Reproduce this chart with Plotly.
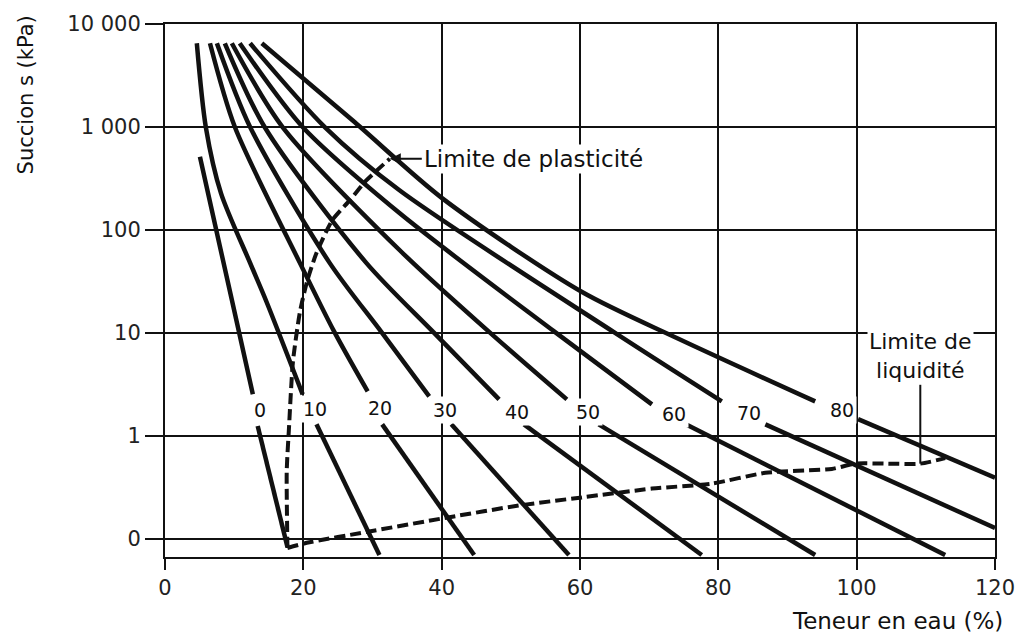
import math
import plotly.graph_objects as go

# Plasticity index of each suction curve
ip_values = [0, 10, 20, 30, 40, 50, 60, 70, 80]

# Water content (%) / suction (kPa) along each curve; None splits the upper
# and lower branch where the curve label sits.
w_ip0 = [5.05, 9.66, 12.7, None, 13.4, 17.7]
s_ip0 = [515, 21, 2.54, None, 1.25, 0.084]
w_ip10 = [4.6, 5.9, 8.1, 12.3, 14.7, 19.9, None, 21.9, 31.0]
s_ip10 = [6500, 1000, 227, 48, 19.9, 2.54, None, 1.30, 0.07]
w_ip20 = [6.5, 10.1, 19.5, 24.5, 29.3, None, 31.4, 44.7]
s_ip20 = [6500, 1000, 48, 10.2, 2.71, None, 1.30, 0.07]
w_ip30 = [7.5, 12.3, 23.8, 31.3, 38.2, None, 41.4, 58.4]
s_ip30 = [6500, 1000, 48, 10.2, 2.43, None, 1.30, 0.07]
w_ip40 = [8.65, 14.4, 29.1, 38.8, 48.3, None, 51.9, 77.6]
s_ip40 = [6500, 1000, 48, 10.2, 2.27, None, 1.30, 0.07]
w_ip50 = [9.66, 17.0, 33.9, 46.9, 58.1, None, 62.7, 94.0]
s_ip50 = [6500, 1000, 64, 10.2, 2.27, None, 1.30, 0.07]
w_ip60 = [10.8, 19.9, 33.9, 56.4, 70.4, None, 75.3, 112.8]
s_ip60 = [6500, 1000, 146, 10.2, 2.03, None, 1.30, 0.07]
w_ip70 = [12.3, 23.1, 33.9, 64.9, 80.5, None, 86.8, 120]
s_ip70 = [6500, 1000, 243, 10.2, 2.17, None, 1.30, 0.128]
w_ip80 = [14.0, 27.4, 40.1, 60.3, 74.3, 94.0, None, 100.2, 120]
s_ip80 = [6500, 1117, 203, 25, 8.75, 2.17, None, 1.46, 0.394]

# Plastic limit and liquid limit loci
w_pl = [17.7, 17.6, 17.9, 18.5, 19.5, 20.5, 21.9, 24.2, 26.7, 29.1, 32.5]
s_pl = [0.082, 0.46, 1.12, 5.3, 15.9, 31, 60, 125, 194, 303, 492]
w_ll = [17.7, 20.5, 29.1, 41.1, 51.2, 60.3, 70.4, 79.0, 86.8, 96.4, 99.8, 104.1, 109.2, 112.8]
s_ll = [0.082, 0.092, 0.117, 0.163, 0.212, 0.254, 0.309, 0.345, 0.44, 0.48, 0.54, 0.54, 0.54, 0.61]

# Leader of the liquid-limit caption
w_ll_leader = [109.2, 109.2]
s_ll_leader = [3.16, 0.54]

# Axis ticks
x_ticks = [0, 20, 40, 60, 80, 100, 120]
y_ticks = [0.1, 1, 10, 100, 1000, 10000]
y_ticktext = ["0", "1", "10", "100", "1 000", "10 000"]

curves_w = [w_ip0, w_ip10, w_ip20, w_ip30, w_ip40, w_ip50, w_ip60, w_ip70, w_ip80]
curves_s = [s_ip0, s_ip10, s_ip20, s_ip30, s_ip40, s_ip50, s_ip60, s_ip70, s_ip80]

FONT = "DejaVu Sans"
INK = "#111111"

fig = go.Figure()

fig.add_trace(go.Scatter(x=w_pl, y=s_pl, mode="lines",
                         line=dict(color=INK, width=4, dash="11px,5px", shape="spline", smoothing=0.6),
                         hoverinfo="skip"))
fig.add_trace(go.Scatter(x=w_ll, y=s_ll, mode="lines",
                         line=dict(color=INK, width=4, dash="11px,5px", shape="spline", smoothing=0.6),
                         hoverinfo="skip"))
fig.add_trace(go.Scatter(x=w_ll_leader, y=s_ll_leader, mode="lines",
                         line=dict(color=INK, width=2), hoverinfo="skip"))

annotations = []
for ip, ws, ss in zip(ip_values, curves_w, curves_s):
    fig.add_trace(go.Scatter(x=ws, y=ss, mode="lines", connectgaps=False,
                             line=dict(color=INK, width=4.5, shape="spline", smoothing=0.8),
                             name=str(ip), hoverinfo="skip"))
    gap = ws.index(None)
    lx = (ws[gap - 1] + ws[gap + 1]) / 2
    ly = (math.log10(ss[gap - 1]) + math.log10(ss[gap + 1])) / 2
    annotations.append(dict(x=lx, y=ly, xref="x", yref="y", text=str(ip), showarrow=False,
                            xshift=5, bgcolor="white", borderpad=2,
                            font=dict(family=FONT, size=19, color=INK)))

annotations.append(dict(x=w_pl[-1], y=math.log10(s_pl[-1]), xref="x", yref="y",
                        text="Limite de plasticité", showarrow=True,
                        ax=32, ay=0, xanchor="left", arrowhead=2, arrowsize=1.1,
                        arrowwidth=2, arrowcolor=INK, bgcolor="white", borderpad=1,
                        font=dict(family=FONT, size=23, color=INK)))
annotations.append(dict(x=w_ll_leader[0], y=math.log10(s_ll_leader[0]), xref="x", yref="y",
                        text="Limite de<br>liquidité", showarrow=False, yanchor="bottom",
                        bgcolor="white", borderpad=1,
                        font=dict(family=FONT, size=22, color=INK)))
annotations.append(dict(x=1.012, y=-0.12, xref="paper", yref="paper",
                        text="Teneur en eau (%)", showarrow=False,
                        xanchor="right", yanchor="middle",
                        font=dict(family=FONT, size=23, color=INK)))
annotations.append(dict(x=-0.168, y=1.02, xref="paper", yref="paper",
                        text="Succion s (kPa)", showarrow=False, textangle=-90,
                        xanchor="center", yanchor="top",
                        font=dict(family=FONT, size=21, color=INK)))

fig.update_layout(
    width=1027, height=633,
    margin=dict(l=165, r=30, t=19, b=76),
    paper_bgcolor="white", plot_bgcolor="white",
    showlegend=False,
    annotations=annotations,
    font=dict(family=FONT, color=INK),
)
fig.update_xaxes(range=[0, 120], tickvals=x_ticks, ticks="outside", ticklen=11,
                 tickwidth=2, tickcolor=INK, showgrid=True, gridcolor=INK, gridwidth=2,
                 showline=True, linecolor=INK, linewidth=2, mirror=True, zeroline=False,
                 tickfont=dict(family=FONT, size=21, color="#222222"))
fig.update_yaxes(type="log", range=[math.log10(0.067), 4], tickvals=y_ticks,
                 ticktext=y_ticktext, ticks="outside", ticklen=18, tickwidth=2,
                 tickcolor=INK, showgrid=True, gridcolor=INK, gridwidth=2,
                 showline=True, linecolor=INK, linewidth=2, mirror=True, zeroline=False,
                 tickfont=dict(family=FONT, size=21, color="#222222"))

fig.write_html("out.html")
